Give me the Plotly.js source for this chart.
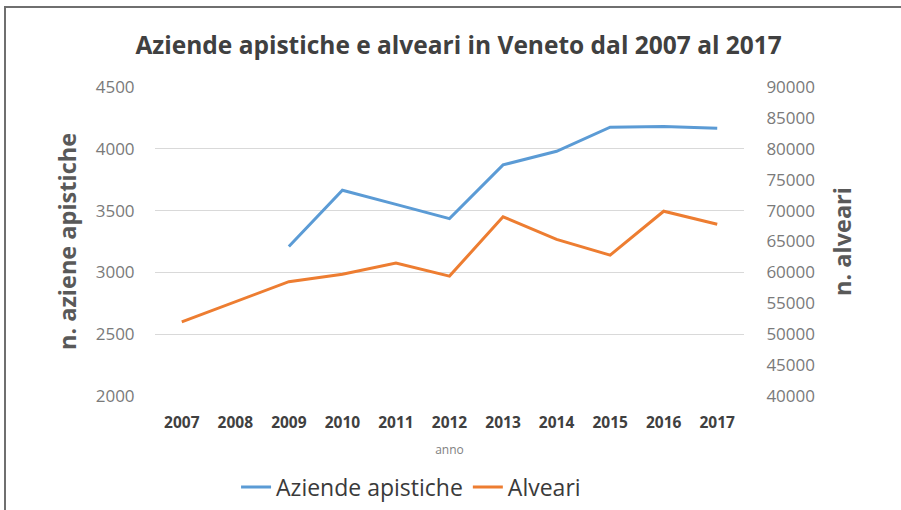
<!DOCTYPE html>
<html><head><meta charset="utf-8">
<script src="https://cdn.plot.ly/plotly-3.0.1.min.js"></script>
<style>
body{margin:0;background:#fff;}
#frame{position:absolute;left:4px;top:6px;width:1000px;height:520px;border-top:2px solid #6f6f6f;border-left:2px solid #6f6f6f;}
#chart{position:absolute;left:0;top:0;width:901px;height:510px;}
</style></head>
<body>
<div id="frame"></div>
<div id="chart"></div>
<script>
const years = ['2007','2008','2009','2010','2011','2012','2013','2014','2015','2016','2017'];
const aziende = [null, null, 3210, 3665, 3550, 3435, 3870, 3980, 4175, 4180, 4167];
const alveari = [51990, 55300, 58500, 59700, 61500, 59400, 69000, 65350, 62800, 69900, 67800];
const leftTicks = [2000, 2500, 3000, 3500, 4000, 4500];
const rightTicks = [40000, 45000, 50000, 55000, 60000, 65000, 70000, 75000, 80000, 85000, 90000];

const font = "Open Sans, Noto Sans, sans-serif";
const data = [
  {x: years, y: aziende, name: 'Aziende apistiche', type: 'scatter', mode: 'lines',
   line: {color: '#5b9bd5', width: 3}, connectgaps: false, yaxis: 'y'},
  {x: years, y: alveari, name: 'Alveari', type: 'scatter', mode: 'lines',
   line: {color: '#ed7d31', width: 3}, yaxis: 'y2'}
];
const layout = {
  width: 901, height: 510,
  paper_bgcolor: 'rgba(0,0,0,0)', plot_bgcolor: 'rgba(0,0,0,0)',
  margin: {l: 155, r: 157, t: 87, b: 114},
  font: {family: font, color: '#595959'},
  title: {text: '<b>Aziende apistiche e alveari in Veneto dal 2007 al 2017</b>',
          font: {family: font, size: 24.5, color: '#404040'},
          x: 0.509, xref: 'container', xanchor: 'center', y: 0.91, yref: 'container', yanchor: 'middle'},
  xaxis: {type: 'category', range: [-0.5, 10.5], showgrid: false, zeroline: false,
          showline: false, ticks: 'outside', ticklen: 12, tickcolor: 'rgba(0,0,0,0)',
          tickfont: {family: font, size: 15.5, color: '#404040', weight: 'bold'},
          title: {text: 'anno', font: {family: font, size: 12, color: '#7f7f7f'}, standoff: 14}},
  yaxis: {range: [2000, 4500], tickvals: leftTicks, showgrid: true, gridcolor: '#d9d9d9',
          gridwidth: 1, zeroline: false, showline: false, ticks: 'outside', ticklen: 16,
          tickcolor: 'rgba(0,0,0,0)', tickfont: {family: font, size: 17, color: '#7a7a7a'},
          title: {text: '<b>n. aziene apistiche</b>', font: {family: font, size: 23.5, color: '#595959'}, standoff: 12}},
  yaxis2: {range: [40000, 90000], tickvals: rightTicks, tickformat: 'd', overlaying: 'y', side: 'right',
          showgrid: false, zeroline: false, showline: false, ticks: 'outside', ticklen: 18,
          tickcolor: 'rgba(0,0,0,0)', tickfont: {family: font, size: 17, color: '#7a7a7a'},
          title: {text: '<b>n. alveari</b>', font: {family: font, size: 23.5, color: '#595959'}, standoff: 20}},
  showlegend: true,
  legend: {orientation: 'h', xref: 'container', yref: 'container', x: 0.262, xanchor: 'left',
           y: 0.045, yanchor: 'middle', font: {family: font, size: 23, color: '#3a3a3a'},
           itemwidth: 30, bgcolor: 'rgba(0,0,0,0)'}
};
Plotly.newPlot('chart', data, layout, {displayModeBar: false, staticPlot: true});
</script>
</body></html>
